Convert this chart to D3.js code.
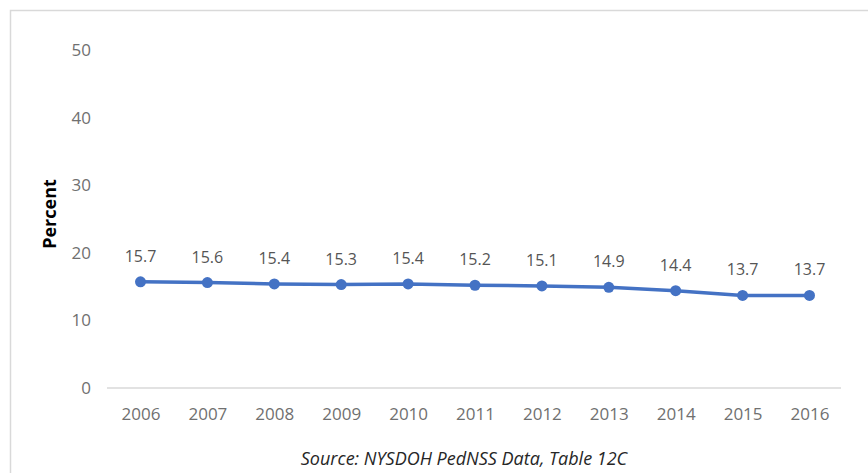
<!DOCTYPE html>
<html>
<head>
<meta charset="utf-8">
<script src="https://cdn.jsdelivr.net/npm/d3@7"></script>
<style>
  html, body { margin: 0; padding: 0; background: #fff; }
  svg { display: block; }
</style>
</head>
<body>
<svg id="chart" width="868" height="473"></svg>
<script>
// Share of children (percent) by year, NYSDOH PedNSS Table 12C
const years = ["2006", "2007", "2008", "2009", "2010", "2011", "2012", "2013", "2014", "2015", "2016"];
const percentValues = [15.7, 15.6, 15.4, 15.3, 15.4, 15.2, 15.1, 14.9, 14.4, 13.7, 13.7];
const yTicks = [0, 10, 20, 30, 40, 50];

const svg = d3.select("#chart");
const font = "'Open Sans', sans-serif";

// Outer chart frame
svg.append("rect")
  .attr("x", 10.5).attr("y", 10.5)
  .attr("width", 900).attr("height", 500)
  .attr("fill", "#fff")
  .attr("stroke", "#d9d9d9")
  .attr("stroke-width", 1.5);

const plot = { left: 107, right: 841, top: 50, bottom: 388 };

const x = d3.scalePoint()
  .domain(years)
  .range([140.5, 809.5]);

const y = d3.scaleLinear()
  .domain([0, 50])
  .range([plot.bottom, plot.top]);

// Y axis labels (no axis line)
const yAxis = d3.axisLeft(y).tickValues(yTicks).tickSize(0).tickPadding(0);
const yG = svg.append("g")
  .attr("transform", `translate(91,0)`)
  .call(yAxis);
yG.select(".domain").remove();
yG.selectAll("text")
  .attr("font-family", font)
  .attr("font-size", 17)
  .attr("fill", "#707070");

// Category axis baseline
svg.append("line")
  .attr("x1", plot.left).attr("x2", plot.right)
  .attr("y1", y(0)).attr("y2", y(0))
  .attr("stroke", "#d9d9d9")
  .attr("stroke-width", 1.5);

const xAxis = d3.axisBottom(x).tickSize(0).tickPadding(0);
const xG = svg.append("g")
  .attr("transform", `translate(0,${y(0) + 20})`)
  .call(xAxis);
xG.select(".domain").remove();
xG.selectAll("text")
  .attr("font-family", font)
  .attr("font-size", 17)
  .attr("fill", "#707070");

// Y axis title
svg.append("text")
  .attr("transform", `translate(56,${214}) rotate(-90)`)
  .attr("text-anchor", "middle")
  .attr("font-family", font)
  .attr("font-size", 18)
  .attr("font-weight", "bold")
  .attr("fill", "#000")
  .text("Percent");

const data = years.map((yr, i) => ({ year: yr, value: percentValues[i] }));

// Series line
svg.append("path")
  .datum(data)
  .attr("fill", "none")
  .attr("stroke", "#4472c4")
  .attr("stroke-width", 3.5)
  .attr("stroke-linejoin", "round")
  .attr("d", d3.line().x(d => x(d.year)).y(d => y(d.value)));

// Markers
svg.selectAll("circle.pt")
  .data(data)
  .enter().append("circle")
  .attr("class", "pt")
  .attr("cx", d => x(d.year))
  .attr("cy", d => y(d.value))
  .attr("r", 5.5)
  .attr("fill", "#4472c4");

// Data labels
svg.selectAll("text.lbl")
  .data(data)
  .enter().append("text")
  .attr("class", "lbl")
  .attr("x", d => x(d.year))
  .attr("y", d => y(d.value) - 20)
  .attr("text-anchor", "middle")
  .attr("font-family", font)
  .attr("font-size", 16)
  .attr("fill", "#555")
  .text(d => d.value.toFixed(1));

// Source note
svg.append("text")
  .attr("x", 464)
  .attr("y", 465)
  .attr("text-anchor", "middle")
  .attr("font-family", font)
  .attr("font-size", 18)
  .attr("font-style", "italic")
  .attr("fill", "#262626")
  .text("Source: NYSDOH PedNSS Data, Table 12C");
</script>
</body>
</html>
